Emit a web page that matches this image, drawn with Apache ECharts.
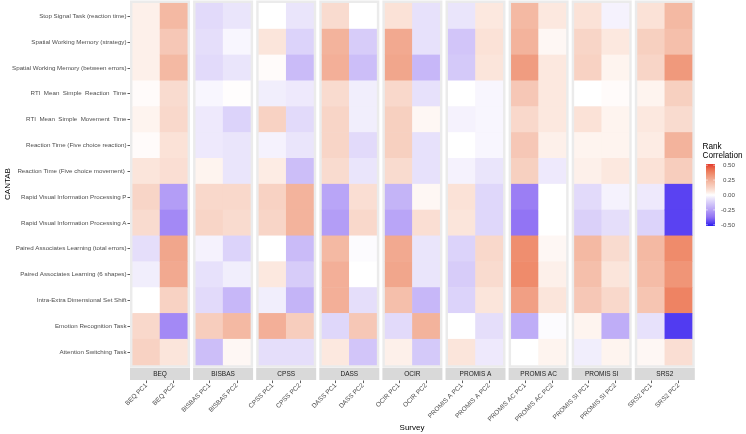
<!DOCTYPE html>
<html><head><meta charset="utf-8">
<script src="https://cdn.jsdelivr.net/npm/echarts@6/dist/echarts.min.js"></script>
<style>html,body{margin:0;padding:0;background:#fff}#c{width:746px;height:434px}</style>
</head><body><div id="c"></div>
<script>
// ---------------- data ----------------
const rows = ["Stop Signal Task (reaction time)", "Spatial Working Memory (strategy)", "Spatial Working Memory (between errors)",
  "RTI  Mean  Simple  Reaction  Time", "RTI  Mean  Simple  Movement  Time", "Reaction Time (Five choice reaction)",
  "Reaction Time (Five choice movement) ", "Rapid Visual Information Processing P", "Rapid Visual Information Processing A",
  "Paired Associates Learning (total errors)", "Paired Associates Learning (6 shapes)", "Intra-Extra Dimensional Set Shift",
  "Emotion Recognition Task", "Attention Switching Task"];
const surveys = ["BEQ", "BISBAS", "CPSS", "DASS", "OCIR", "PROMIS A", "PROMIS AC", "PROMIS SI", "SRS2"];
const legendTicks = [0.5, 0.25, 0, -0.25, -0.5];

const BEQ_PC1 = [0.04, 0.04, 0.04, 0.01, 0.03, 0.01, 0.07, 0.12, 0.10, -0.08, -0.04, 0.00, 0.11, 0.13];
const BEQ_PC2 = [0.22, 0.17, 0.22, 0.10, 0.11, 0.08, 0.09, -0.26, -0.31, 0.28, 0.27, 0.13, -0.31, 0.07];
const BISBAS_PC1 = [-0.09, -0.08, -0.09, -0.02, -0.05, -0.05, 0.03, 0.11, 0.12, -0.03, -0.07, -0.09, 0.15, -0.17];
const BISBAS_PC2 = [-0.06, -0.02, -0.06, 0.005, -0.11, -0.06, -0.06, 0.11, 0.10, -0.11, -0.04, -0.19, 0.22, 0.02];
const CPSS_PC1 = [0.00, 0.07, 0.01, -0.04, 0.13, -0.03, 0.05, 0.13, 0.12, 0.00, 0.06, -0.04, 0.25, -0.08];
const CPSS_PC2 = [-0.06, -0.11, -0.18, -0.05, -0.09, -0.06, -0.17, 0.24, 0.24, -0.18, -0.13, -0.20, 0.15, -0.08];
const DASS_PC1 = [0.10, 0.24, 0.25, 0.10, 0.12, 0.12, 0.10, -0.24, -0.26, 0.22, 0.25, 0.25, -0.10, 0.06];
const DASS_PC2 = [0.00, -0.13, -0.17, -0.04, -0.04, -0.09, -0.06, 0.09, 0.11, -0.01, 0.00, -0.08, 0.17, -0.15];
const OCIR_PC1 = [0.08, 0.27, 0.28, 0.11, 0.14, 0.14, 0.10, -0.20, -0.24, 0.27, 0.28, 0.20, -0.09, 0.04];
const OCIR_PC2 = [-0.07, -0.07, -0.19, -0.07, 0.02, -0.07, -0.07, 0.02, 0.09, -0.06, -0.06, -0.19, 0.24, -0.14];
const PROMISA_PC1 = [-0.06, -0.15, -0.14, 0.00, -0.03, 0.00, -0.03, 0.08, 0.07, -0.11, -0.13, -0.11, 0.00, 0.07];
const PROMISA_PC2 = [0.06, 0.08, 0.07, -0.02, -0.02, -0.02, -0.06, -0.10, -0.10, 0.11, 0.10, 0.07, -0.08, -0.05];
const PROMISAC_PC1 = [0.22, 0.24, 0.31, 0.17, 0.11, 0.17, 0.14, -0.34, -0.37, 0.35, 0.36, 0.30, -0.22, 0.00];
const PROMISAC_PC2 = [0.06, 0.02, 0.06, 0.06, 0.06, 0.04, -0.05, 0.00, 0.00, 0.02, 0.04, 0.07, -0.01, 0.03];
const PROMISSI_PC1 = [0.08, 0.12, 0.13, 0.00, 0.08, 0.03, 0.04, -0.09, -0.12, 0.22, 0.20, 0.17, 0.03, -0.04];
const PROMISSI_PC2 = [-0.03, 0.06, 0.03, 0.01, 0.03, 0.03, 0.06, -0.03, -0.08, 0.10, 0.07, 0.11, -0.22, 0.03];
const SRS2_PC1 = [0.08, 0.14, 0.12, 0.03, 0.06, 0.05, 0.08, -0.05, -0.11, 0.22, 0.21, 0.18, -0.07, 0.02];
const SRS2_PC2 = [0.22, 0.20, 0.32, 0.14, 0.10, 0.24, 0.15, -0.46, -0.46, 0.36, 0.33, 0.38, -0.47, 0.09];

const columns = [
  [BEQ_PC1, BEQ_PC2], [BISBAS_PC1, BISBAS_PC2], [CPSS_PC1, CPSS_PC2], [DASS_PC1, DASS_PC2],
  [OCIR_PC1, OCIR_PC2], [PROMISA_PC1, PROMISA_PC2], [PROMISAC_PC1, PROMISAC_PC2],
  [PROMISSI_PC1, PROMISSI_PC2], [SRS2_PC1, SRS2_PC2]
];

// ---------------- style ----------------
const VMIN = -0.52, VMAX = 0.52;
const knots = [[-0.52, '#2419ee'], [-0.46, '#5a42f2'], [-0.37, '#9274f4'], [-0.30, '#a68cf5'], [-0.22, '#bfadf7'],
  [-0.13, '#d7ccf9'], [-0.06, '#eae5fb'], [0, '#ffffff'], [0.06, '#fce8df'], [0.12, '#f8d5c7'], [0.20, '#f5bfab'],
  [0.28, '#f1a68c'], [0.36, '#ef8b6b'], [0.44, '#ea6a4c'], [0.52, '#e3392b']];
function h2r(h) { return [1, 3, 5].map(i => parseInt(h.slice(i, i + 2), 16)); }
function ramp(v) {
  v = Math.max(VMIN, Math.min(VMAX, v));
  for (let i = 0; i < knots.length - 1; i++) {
    const [a, ca] = knots[i], [b, cb] = knots[i + 1];
    if (v <= b) {
      const t = (v - a) / (b - a), A = h2r(ca), B = h2r(cb);
      return 'rgb(' + A.map((x, k) => Math.round(x + (B[k] - x) * t)).join(',') + ')';
    }
  }
  return knots[knots.length - 1][1];
}
const NS = 105, palette = [];
for (let i = 0; i < NS; i++) palette.push(ramp(VMIN + (VMAX - VMIN) * i / (NS - 1)));

const FONT = "'Liberation Sans', Arial, sans-serif";
const tileLeft0 = 132.7, step = 63.1, tileW = 54.6, tileTop = 3.2, tileH = 361.8, pad = 2.7;

const grids = [], xAxes = [], yAxes = [], series = [], graphics = [];
surveys.forEach((s, i) => {
  const left = tileLeft0 + step * i;
  grids.push({ left: left, top: tileTop, width: tileW, height: tileH, show: true,
    backgroundColor: '#ebebeb', borderColor: '#ebebeb', borderWidth: pad * 2 });
  xAxes.push({ type: 'category', gridIndex: i, data: [s + ' PC1', s + ' PC2'], offset: 15.5,
    axisLine: { show: false }, axisTick: { show: true, length: 2.6, alignWithLabel: true, lineStyle: { color: '#333', width: 0.8 } },
    axisLabel: { rotate: 45, margin: 4, fontSize: 6.5, color: '#4d4d4d', fontFamily: FONT, interval: 0 },
    splitLine: { show: false } });
  yAxes.push({ type: 'category', gridIndex: i, data: rows, inverse: true, offset: i === 0 ? pad : 0,
    axisLine: { show: false },
    axisTick: { show: i === 0, length: 2.5, alignWithLabel: true, lineStyle: { color: '#333', width: 0.8 } },
    axisLabel: { show: i === 0, margin: 3.5, fontSize: 6.2, color: '#4d4d4d', fontFamily: FONT, interval: 0 },
    splitLine: { show: false } });
  const data = [];
  columns[i].forEach((col, c) => col.forEach((v, r) => data.push([c, r, v])));
  series.push({ type: 'heatmap', xAxisIndex: i, yAxisIndex: i, data: data, emphasis: { disabled: true },
    itemStyle: { borderWidth: 0 }, progressive: 0 });
  // facet strip
  graphics.push({ type: 'rect', shape: { x: left - pad, y: 368, width: tileW + 2 * pad, height: 12 },
    style: { fill: '#d9d9d9' }, silent: true });
  graphics.push({ type: 'text', x: left + tileW / 2, y: 374.3,
    style: { text: s, align: 'center', verticalAlign: 'middle', fontSize: 6.5, fontFamily: FONT, fill: '#1a1a1a' }, silent: true });
});

// axis titles
graphics.push({ type: 'text', x: 412, y: 427.5,
  style: { text: 'Survey', align: 'center', verticalAlign: 'middle', fontSize: 8, fontFamily: FONT, fill: '#000' } });
graphics.push({ type: 'text', x: 7.5, y: 184, rotation: Math.PI / 2,
  style: { text: 'CANTAB', align: 'center', verticalAlign: 'middle', fontSize: 8, fontFamily: FONT, fill: '#000' } });

// legend
const LX = 706, LY = 164, LW = 9, LH = 62;
const yOf = v => LY + (VMAX - v) / (VMAX - VMIN) * LH;
graphics.push({ type: 'text', x: 702.5, y: 147,
  style: { text: 'Rank', align: 'left', verticalAlign: 'middle', fontSize: 8.2, fontFamily: FONT, fill: '#000' } });
graphics.push({ type: 'text', x: 702.5, y: 155.5,
  style: { text: 'Correlation', align: 'left', verticalAlign: 'middle', fontSize: 8.2, fontFamily: FONT, fill: '#000' } });
const stops = [];
for (let i = 0; i <= 40; i++) { const v = VMAX - (VMAX - VMIN) * i / 40; stops.push({ offset: i / 40, color: ramp(v) }); }
graphics.push({ type: 'rect', shape: { x: LX, y: LY, width: LW, height: LH },
  style: { fill: new echarts.graphic.LinearGradient(0, 0, 0, 1, stops) } });
legendTicks.forEach(t => {
  const y = yOf(t);
  graphics.push({ type: 'line', shape: { x1: LX, y1: y, x2: LX + 1.8, y2: y }, style: { stroke: '#fff', lineWidth: 0.6 } });
  graphics.push({ type: 'line', shape: { x1: LX + LW - 1.8, y1: y, x2: LX + LW, y2: y }, style: { stroke: '#fff', lineWidth: 0.6 } });
  graphics.push({ type: 'text', x: 735, y: y,
    style: { text: t.toFixed(2), align: 'right', verticalAlign: 'middle', fontSize: 6.2, fontFamily: FONT, fill: '#4d4d4d' } });
});

const chart = echarts.init(document.getElementById('c'), null, { renderer: 'canvas' });
chart.setOption({
  animation: false,
  backgroundColor: '#ffffff',
  grid: grids, xAxis: xAxes, yAxis: yAxes, series: series,
  visualMap: { type: 'continuous', show: false, min: VMIN, max: VMAX, dimension: 2,
    seriesIndex: series.map((_, i) => i), inRange: { color: palette } },
  graphic: { elements: graphics }
});
</script></body></html>
